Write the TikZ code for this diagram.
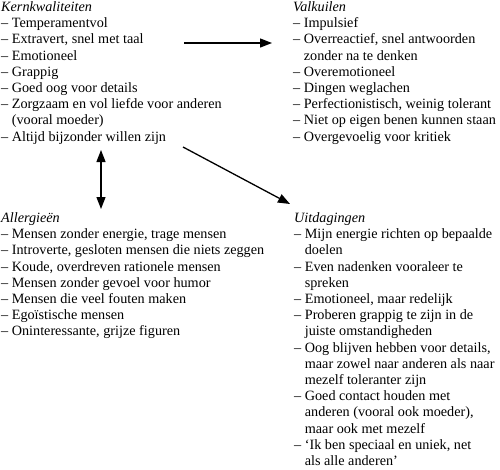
\documentclass[tikz,border=0pt]{standalone}
\usepackage{fontspec}
\setmainfont{Liberation Serif}
\usetikzlibrary{arrows.meta}

\tikzset{
	blok/.style={anchor=north west, inner sep=0pt, align=left, font=\fontsize{14.2}{16.2}\selectfont},
	pijl/.style={line width=1.3pt, -{Triangle[length=12pt,width=9pt]}},
	dubbelpijl/.style={line width=1.3pt, {Triangle[length=12pt,width=9pt]}-{Triangle[length=12pt,width=9pt]}},
}
\newcommand{\inspring}{\hphantom{–\ }}

\begin{document}
\begin{tikzpicture}[x=1pt, y=-1pt]
	\useasboundingbox (0,0) rectangle (500,469);
	% Blokken:
	\node[blok] (kern) at (1,1.5) {\textit{Kernkwaliteiten}\\
		– Temperamentvol\\
		– Extravert, snel met taal\\
		– Emotioneel\\
		– Grappig\\
		– Goed oog voor details\\
		– Zorgzaam en vol liefde voor anderen\\
		\inspring(vooral moeder)\\
		– Altijd bijzonder willen zijn};
	\node[blok] (valk) at (293,1.5) {\textit{Valkuilen}\\
		– Impulsief\\
		– Overreactief, snel antwoorden\\
		\inspring zonder na te denken\\
		– Overemotioneel\\
		– Dingen weglachen\\
		– Perfectionistisch, weinig tolerant\\
		– Niet op eigen benen kunnen staan\\
		– Overgevoelig voor kritiek};
	\node[blok] (allerg) at (1,212.5) {\textit{Allergieën}\\
		– Mensen zonder energie, trage mensen\\
		– Introverte, gesloten mensen die niets zeggen\\
		– Koude, overdreven rationele mensen\\
		– Mensen zonder gevoel voor humor\\
		– Mensen die veel fouten maken\\
		– Egoïstische mensen\\
		– Oninteressante, grijze figuren};
	\node[blok] (uitd) at (294,212.5) {\textit{Uitdagingen}\\
		– Mijn energie richten op bepaalde\\
		\inspring doelen\\
		– Even nadenken vooraleer te\\
		\inspring spreken\\
		– Emotioneel, maar redelijk\\
		– Proberen grappig te zijn in de\\
		\inspring juiste omstandigheden\\
		– Oog blijven hebben voor details,\\
		\inspring maar zowel naar anderen als naar\\
		\inspring mezelf toleranter zijn\\
		– Goed contact houden met\\
		\inspring anderen (vooral ook moeder),\\
		\inspring maar ook met mezelf\\
		– ‘Ik ben speciaal en uniek, net\\
		\inspring als alle anderen’};
	% Pijlen:
	\coordinate (kern-valk) at (184,43);
	\coordinate (valk-in) at (272,43);
	\coordinate (kern-onder) at (101,150);
	\coordinate (allerg-in) at (101,209);
	\coordinate (kern-uitd) at (183,147);
	\coordinate (uitd-in) at (290,204);
	\draw[pijl] (kern-valk) -- (valk-in);
	\draw[dubbelpijl] (kern-onder) -- (allerg-in);
	\draw[pijl] (kern-uitd) -- (uitd-in);
\end{tikzpicture}
\end{document}
